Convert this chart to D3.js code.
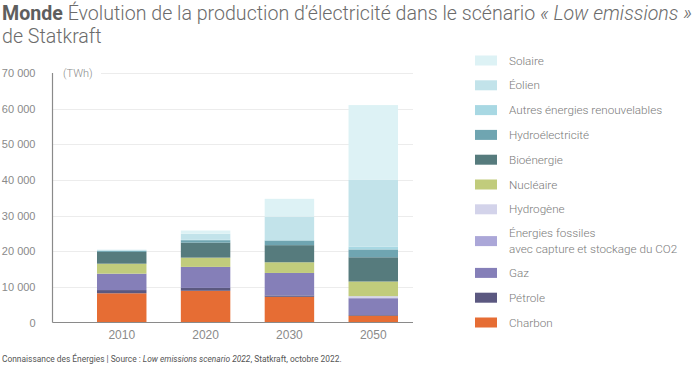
<!DOCTYPE html>
<html>
<head>
  <meta charset="utf-8">
  <style>
    body { margin: 0; background: #fff; }
    svg { font-family: Roboto, "Noto Sans", sans-serif; }
    .grid line { stroke: #ececec; shape-rendering: crispEdges; }
    .axis path, .axis line { stroke: #8a8a8a; shape-rendering: crispEdges; }
    .axis text { fill: #8a8a8a; font-weight: 300; }
  </style>
  <script src="https://cdn.jsdelivr.net/npm/d3@7/dist/d3.min.js"></script>
</head>
<body>
  <div id="graph"></div>
  <script>
    // years on the x axis
    var years = ["2010", "2020", "2030", "2050"];

    // stacked from bottom to top
    var sources = ["Charbon", "Pétrole", "Gaz", "Énergies fossiles avec capture et stockage du CO2",
      "Hydrogène", "Nucléaire", "Bioénergie", "Hydroélectricité", "Autres énergies renouvelables",
      "Éolien", "Solaire"];
    var colours = ["#e66d34", "#5b5880", "#857fb8", "#aba7d8", "#d3d3ea", "#c1cc7c",
      "#567b7d", "#6fa5b1", "#a8d8e3", "#c2e3ea", "#ddf2f5"];

    // TWh, one array per source, same order as years
    var charbon = [8200, 8900, 7200, 1900];
    var petrole = [900, 800, 400, 200];
    var gaz = [4600, 5900, 6300, 4700];
    var fossilesCcs = [0, 0, 0, 200];
    var hydrogene = [0, 0, 0, 400];
    var nucleaire = [2800, 2600, 3000, 4100];
    var bioenergie = [3300, 4200, 4800, 6800];
    var hydro = [300, 700, 1300, 2200];
    var autres = [100, 100, 100, 800];
    var eolien = [200, 1700, 6600, 18700];
    var solaire = [0, 900, 5000, 21000];

    var yTicks = [0, 10000, 20000, 30000, 40000, 50000, 60000, 70000];

    var series = [charbon, petrole, gaz, fossilesCcs, hydrogene, nucleaire,
      bioenergie, hydro, autres, eolien, solaire];

    var rows = years.map(function(yr, i) {
      var r = { year: yr };
      sources.forEach(function(s, k) { r[s] = series[k][i]; });
      return r;
    });

    var width = 700, height = 368;
    var svg = d3.select("#graph").append("svg")
      .attr("width", width)
      .attr("height", height);

    // title
    var title = svg.append("text")
      .attr("x", 2)
      .attr("y", 20)
      .style("font-size", "19.6px")
      .style("font-weight", 300)
      .attr("fill", "#6b6b6b");
    title.append("tspan").text("Monde ").style("font-weight", 700).attr("fill", "#5e5e5e");
    title.append("tspan").text("Évolution de la production d’électricité dans le scénario ");
    title.append("tspan").text("« Low emissions »").style("font-style", "italic");
    svg.append("text")
      .attr("x", 2)
      .attr("y", 43)
      .style("font-size", "19.6px")
      .style("font-weight", 300)
      .attr("fill", "#6b6b6b")
      .text("de Statkraft");

    var plot = { left: 52.5, right: 413, top: 73, bottom: 322.5 };

    var x = d3.scaleBand()
      .domain(years)
      .range([97, 398])
      .paddingInner(0.41)
      .paddingOuter(0);

    var y = d3.scaleLinear()
      .domain([0, 70000])
      .range([plot.bottom, plot.top]);

    // gridlines
    svg.append("g")
      .attr("class", "grid")
      .selectAll("line")
      .data(yTicks.slice(1))
      .join("line")
      .attr("x1", function(d) { return d == 70000 ? 101 : plot.left; })
      .attr("x2", plot.right)
      .attr("y1", function(d) { return Math.round(y(d)) + 0.5; })
      .attr("y2", function(d) { return Math.round(y(d)) + 0.5; });

    var stack = d3.stack().keys(sources);
    var layers = stack(rows);

    svg.append("g")
      .selectAll("g")
      .data(layers)
      .join("g")
      .attr("fill", function(d, i) { return colours[i]; })
      .selectAll("rect")
      .data(function(d) { return d; })
      .join("rect")
      .attr("x", function(d) { return x(d.data.year); })
      .attr("width", x.bandwidth())
      .attr("y", function(d) { return y(d[1]); })
      .attr("height", function(d) { return Math.max(0, y(d[0]) - y(d[1])); });

    // axes
    var yAxis = d3.axisLeft(y)
      .tickValues(yTicks)
      .tickSize(0)
      .tickPadding(17)
      .tickFormat(function(d) { return d3.format(",")(d).replace(",", " "); });

    svg.append("g")
      .attr("class", "axis")
      .attr("transform", "translate(" + plot.left + ",0)")
      .call(yAxis)
      .call(function(g) { g.select(".domain").remove(); })
      .selectAll("text")
      .style("font-size", "11px");

    svg.append("line")
      .attr("x1", plot.left).attr("x2", plot.left)
      .attr("y1", plot.top).attr("y2", plot.bottom)
      .attr("stroke", "#8a8a8a")
      .attr("stroke-width", 1.2);

    var xAxis = d3.axisBottom(x)
      .tickSize(0)
      .tickPadding(8);

    svg.append("g")
      .attr("class", "axis")
      .attr("transform", "translate(0," + plot.bottom + ")")
      .call(xAxis)
      .call(function(g) { g.select(".domain").remove(); })
      .selectAll("text")
      .style("font-size", "12px");

    svg.append("line")
      .attr("x1", plot.left).attr("x2", plot.right)
      .attr("y1", plot.bottom).attr("y2", plot.bottom)
      .attr("stroke", "#8a8a8a")
      .attr("stroke-width", 1.2);

    svg.append("text")
      .attr("x", 63)
      .attr("y", 77)
      .style("font-size", "11px")
      .style("font-weight", 300)
      .attr("fill", "#8a8a8a")
      .text("(TWh)");

    // legend, top to bottom is the reverse of the stack
    var legendItems = sources.map(function(s, i) {
      var lines = i == 3 ? ["Énergies fossiles", "avec capture et stockage du CO2"] : [s];
      return { lines: lines, colour: colours[i] };
    }).reverse();

    var legendTop = 48.1;
    legendItems.forEach(function(d) {
      var h = 24.8 + (d.lines.length - 1) * 14;
      d.cy = legendTop + h / 2;
      legendTop += h;
    });

    var legend = svg.append("g")
      .selectAll("g")
      .data(legendItems)
      .join("g")
      .attr("transform", function(d) { return "translate(475," + d.cy + ")"; });

    legend.append("rect")
      .attr("x", 0)
      .attr("y", -5)
      .attr("width", 22)
      .attr("height", 10)
      .attr("fill", function(d) { return d.colour; });

    legend.append("text")
      .attr("x", 34)
      .style("font-size", "11.7px")
      .style("font-weight", 300)
      .attr("fill", "#7a7a7a")
      .selectAll("tspan")
      .data(function(d) { return d.lines.map(function(l, j) { return { t: l, j: j, n: d.lines.length }; }); })
      .join("tspan")
      .attr("x", 34)
      .attr("y", function(d) { return (d.j - (d.n - 1) / 2) * 15.5 + 4; })
      .text(function(d) { return d.t; });

    // source line
    var foot = svg.append("text")
      .attr("x", 2)
      .attr("y", 362)
      .style("font-size", "8.4px")
      .attr("fill", "#555");
    foot.append("tspan").text("Connaissance des Énergies | Source : ");
    foot.append("tspan").text("Low emissions scenario 2022").style("font-style", "italic");
    foot.append("tspan").text(", Statkraft, octobre 2022.");
  </script>
</body>
</html>
